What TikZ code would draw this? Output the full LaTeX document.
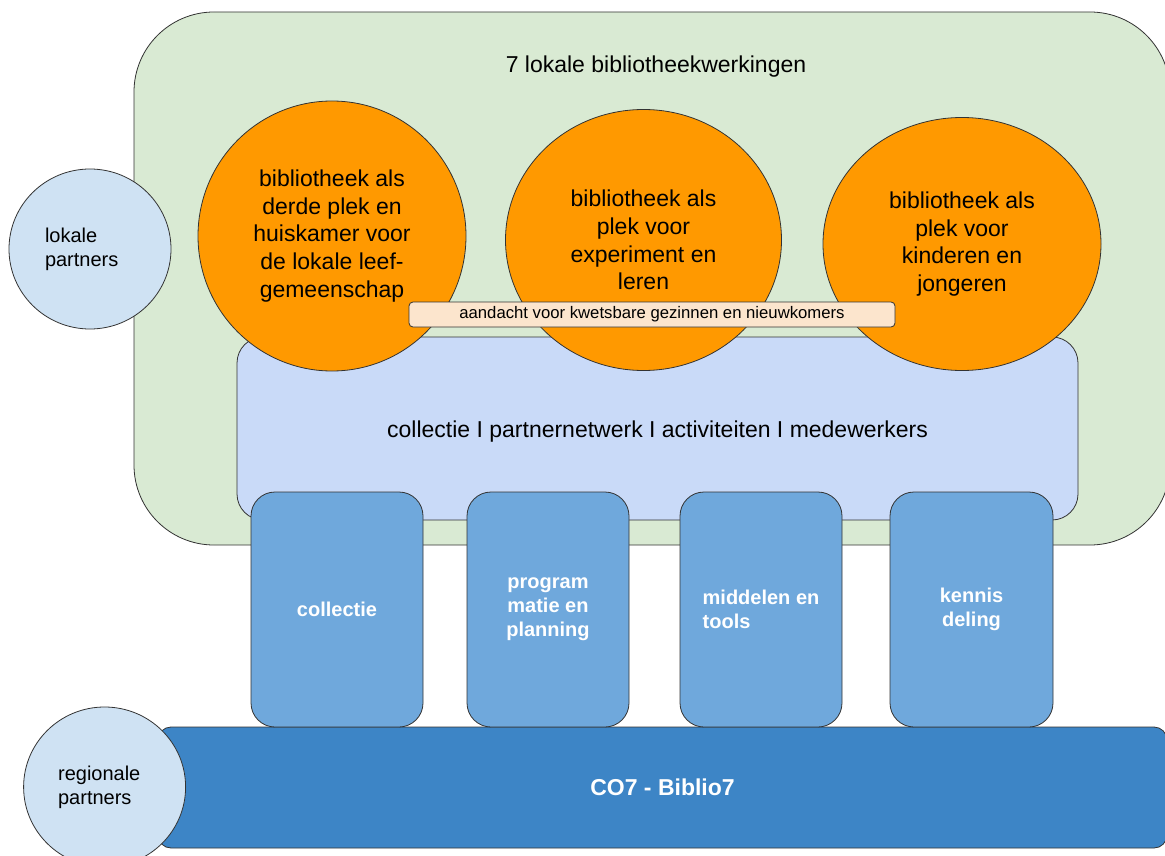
\documentclass[tikz,border=0pt]{standalone}
\usepackage{fontspec}
\setmainfont{Liberation Sans}
\usetikzlibrary{shapes.geometric}

\definecolor{werkgreen}{HTML}{D9EAD3}
\definecolor{basisblue}{HTML}{C9DAF8}
\definecolor{plekorange}{HTML}{FF9900}
\definecolor{pijlerblue}{HTML}{6FA8DC}
\definecolor{co7blue}{HTML}{3D85C6}
\definecolor{partnerblue}{HTML}{CFE2F3}
\definecolor{aandachtpeach}{HTML}{FCE5CD}
\definecolor{rand}{HTML}{333333}

\begin{document}
\begin{tikzpicture}[x=1pt, y=-1pt,
  box/.style={draw=rand, line width=0.8pt, rounded corners=#1, inner sep=0pt},
  box/.default=25pt,
  plek/.style={draw=rand, line width=0.8pt, ellipse, fill=plekorange, inner sep=0pt,
    align=center, font=\fontsize{23}{27.7}\selectfont},
  partner/.style={draw=rand, line width=0.8pt, ellipse, fill=partnerblue, inner sep=0pt,
    minimum width=162pt, minimum height=160pt, align=left,
    font=\fontsize{20}{24.3}\selectfont},
  pijler/.style={box=24pt, fill=pijlerblue, minimum width=162pt, minimum height=235pt,
    text=white, font=\fontsize{20}{24}\selectfont\bfseries}]
\useasboundingbox (0,0) rectangle (1165,856);

% lokale werking
\node[box=80pt, fill=werkgreen, minimum width=1036pt, minimum height=533pt] (werking) at (652,278.5) {};
\node[font=\fontsize{23}{27.7}\selectfont] (titel) at (656,67) {7 lokale bibliotheekwerkingen};
\node[partner, text width=90pt] (lokaal) at (90,249) {lokale\\partners};
\node[box=26pt, fill=basisblue, minimum width=841pt, minimum height=183pt] (basis) at (657.5,428.5) {};
\node[font=\fontsize{23}{27.7}\selectfont] (basistekst) at (basis.center) [yshift=-3pt]
  {collectie I partnernetwerk I activiteiten I medewerkers};

% drie plekken
\node[plek, minimum width=268pt, minimum height=270pt] (derdeplek) at (332,236)
  {bibliotheek als\\derde plek en\\huiskamer voor\\de lokale leef-\\gemeenschap};
\node[plek, minimum width=276pt, minimum height=261pt] (experiment) at (643.5,240)
  {bibliotheek als\\plek voor\\experiment en\\leren};
\node[plek, minimum width=278pt, minimum height=253pt] (jeugd) at (962,244)
  {bibliotheek als\\plek voor\\kinderen en\\jongeren};
\node[box=4pt, fill=aandachtpeach, minimum width=486pt, minimum height=25pt,
  font=\fontsize{16.7}{20}\selectfont] (aandacht) at (652,314.5)
  {aandacht voor kwetsbare gezinnen en nieuwkomers};

% regionale basis
\node[box=13pt, fill=co7blue, minimum width=1009pt, minimum height=121pt, text=white,
  font=\fontsize{23}{27.7}\selectfont\bfseries] (co7) at (662.5,787.5) {CO7 - Biblio7};
\node[pijler, minimum width=172pt] (collectie) at (337,609.5) {collectie};
\node[pijler, align=center] (programmatie) at (548,609.5) {program\\matie en\\planning};
\node[pijler, align=left] (middelen) at (761,609.5) {middelen en\\tools};
\node[pijler, align=center, minimum width=163pt] (kennis) at (971.5,609.5) {kennis\\deling};
\node[partner, text width=93pt] (regionaal) at (104.6,787) {regionale\\partners};
\end{tikzpicture}
\end{document}
